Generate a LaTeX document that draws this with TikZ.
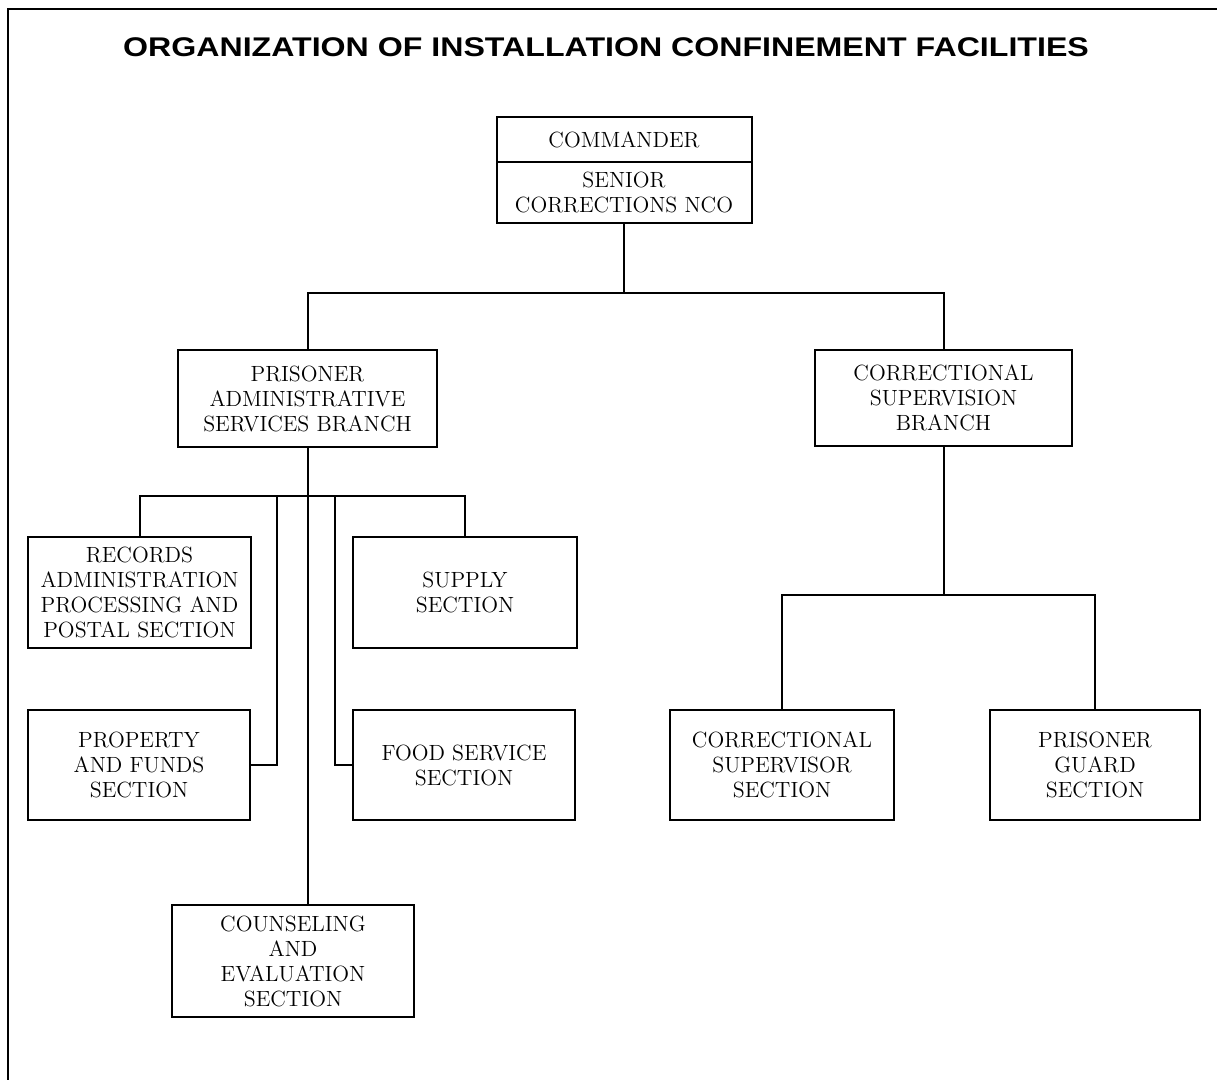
\documentclass[tikz,border=0pt]{standalone}
\usepackage{fontspec}
\usetikzlibrary{calc}
\newfontfamily\titlefont{Liberation Sans}
\newcommand{\boxfont}{\fontsize{11}{12.5}\selectfont}

\tikzset{
  unit/.style={draw, line width=1pt, align=center, inner sep=0pt, font=\boxfont},
  link/.style={line width=1pt}
}

\begin{document}
\begin{tikzpicture}[x=0.5pt,y=-0.5pt]
  \useasboundingbox (0,0) rectangle (1217,1080);

  % Frame
  \draw[line width=1.2pt] (8,1080) -- (8,9) -- (1217,9);

  % Title
  \node (title) at (606,47) {\scalebox{1.19}[1]{\titlefont\bfseries\fontsize{13.5}{16}\selectfont ORGANIZATION OF INSTALLATION CONFINEMENT FACILITIES}};

  % Commander
  \node[unit, minimum width=127.5pt, minimum height=22.5pt] (cmd) at (624,139.5) {COMMANDER};
  \node[unit, minimum width=127.5pt, minimum height=30.5pt] (nco) at (624,192.5) {SENIOR\\CORRECTIONS NCO};

  % Branches
  \node[unit, minimum width=129.5pt, minimum height=48.5pt] (pas) at (307.5,398.5) {PRISONER\\ADMINISTRATIVE\\SERVICES BRANCH};
  \node[unit, minimum width=128.5pt, minimum height=48pt] (csb) at (943.5,398) {CORRECTIONAL\\SUPERVISION\\BRANCH};

  % Sections
  \node[unit, minimum width=111.5pt, minimum height=55.5pt] (rec) at (139.5,592.5) {RECORDS\\ADMINISTRATION\\PROCESSING AND\\POSTAL SECTION};
  \node[unit, minimum width=112pt, minimum height=55.5pt] (sup) at (465,592.5) {SUPPLY\\SECTION};
  \node[unit, minimum width=111pt, minimum height=55pt] (prop) at (139,765) {PROPERTY\\AND FUNDS\\SECTION};
  \node[unit, minimum width=111pt, minimum height=55pt] (food) at (464,765) {FOOD SERVICE\\SECTION};
  \node[unit, minimum width=121pt, minimum height=56pt] (cns) at (293,961) {COUNSELING\\AND\\EVALUATION\\SECTION};
  \node[unit, minimum width=112pt, minimum height=55pt] (csup) at (782,765) {CORRECTIONAL\\SUPERVISOR\\SECTION};
  \node[unit, minimum width=105pt, minimum height=55pt] (grd) at (1095,765) {PRISONER\\GUARD\\SECTION};

  % Top level links
  \coordinate (topbar) at (621,293);
  \draw[link] (nco.south) -- (nco.south |- topbar);
  \draw[link] (pas.north) |- (topbar) -| (csb.north);

  % Administrative branch links
  \coordinate (pasbar) at (307.5,496);
  \coordinate (propline) at (277,496);
  \coordinate (foodline) at (335,496);
  \draw[link] (rec.north) |- (pasbar) -| (sup.north);
  \draw[link] (pas.south) -- (pas.south |- cns.north);
  \draw[link] (propline) |- (prop.east);
  \draw[link] (foodline) |- (food.west);

  % Supervision branch links
  \coordinate (csbar) at (943.5,595);
  \draw[link] (csb.south) -- (csbar);
  \draw[link] (csup.north) |- (csbar) -| (grd.north);
\end{tikzpicture}
\end{document}
